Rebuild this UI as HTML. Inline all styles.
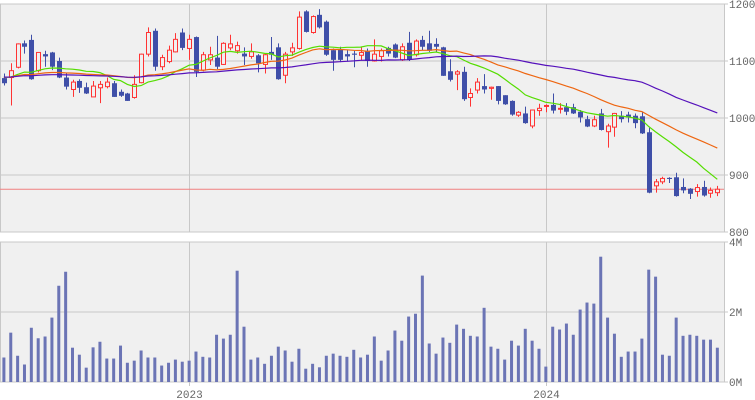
<!DOCTYPE html>
<html><head><meta charset="utf-8">
<style>
body{margin:0;background:#fff;width:755px;height:400px;overflow:hidden;font-family:"Liberation Mono","DejaVu Sans Mono",monospace;}
svg{display:block}
text{font-size:11px;fill:#666;font-family:"Liberation Mono","DejaVu Sans Mono",monospace;}
</style></head>
<body>
<svg id="chart" width="755" height="400" xmlns="http://www.w3.org/2000/svg"></svg>
<script>
const opens=[1070,1071,1089,1131,1137,1083,1112,1115,1100,1071,1050,1065,1054,1037,1053,1055,1061,1046,1043,1036,1062,1112,1153,1090,1099,1116,1150,1122,1142,1084,1102,1106,1094,1123,1118,1113,1108,1110,1094,1116,1124,1075,1116,1122,1187,1150,1181,1169,1119,1120,1112,1113,1110,1118,1100,1108,1123,1129,1102,1132,1111,1137,1131,1130,1124,1082,1077,1081,1036,1049,1056,1052,1056,1040,1030,1005,1008,986,1013,1021,1023,1016,1019,1019,1011,998,986,1008,976,984,1004,1006,1004,1003,975,881,888,895,896,879,876,871,879,868,869];
const highs=[1078,1096,1131,1136,1146,1115,1118,1116,1106,1078,1067,1068,1062,1065,1065,1071,1065,1050,1044,1075,1113,1159,1157,1111,1127,1149,1157,1146,1143,1116,1125,1144,1133,1146,1134,1124,1131,1112,1113,1142,1131,1116,1132,1187,1189,1180,1191,1171,1122,1125,1119,1118,1125,1122,1138,1122,1125,1131,1131,1151,1138,1144,1153,1140,1125,1103,1084,1090,1052,1070,1077,1055,1056,1040,1031,1012,1020,1015,1025,1024,1043,1026,1026,1025,1014,1004,1004,1016,990,1009,1012,1011,1008,1011,983,893,897,896,904,894,877,884,890,878,881];
const lows=[1057,1022,1087,1113,1067,1080,1090,1084,1070,1050,1037,1044,1042,1037,1026,1052,1037,1037,1030,1034,1061,1108,1083,1084,1096,1115,1119,1102,1072,1082,1093,1086,1093,1119,1113,1093,1104,1080,1078,1102,1067,1061,1109,1120,1150,1148,1157,1109,1083,1098,1099,1089,1101,1090,1099,1099,1108,1105,1100,1100,1108,1119,1116,1116,1074,1064,1049,1030,1020,1043,1043,1032,1024,1023,1004,1002,990,982,1004,1010,1008,1008,1005,1007,992,984,984,978,948,967,992,992,982,972,868,869,884,886,862,868,858,862,862,860,863];
const closes=[1061,1083,1130,1125,1068,1115,1108,1090,1071,1055,1063,1053,1043,1056,1059,1063,1037,1039,1030,1059,1112,1150,1090,1106,1119,1138,1123,1138,1081,1111,1111,1090,1131,1130,1127,1108,1116,1096,1111,1111,1068,1112,1123,1177,1151,1178,1159,1111,1102,1102,1108,1111,1115,1100,1112,1118,1113,1106,1125,1102,1135,1125,1118,1125,1074,1067,1081,1033,1043,1063,1050,1054,1030,1024,1006,1010,991,1014,1017,1022,1013,1017,1011,1008,1001,985,997,979,986,1008,998,1001,991,973,869,888,894,893,863,873,867,878,864,873,875];
// estimated average level of closes before the visible window (MA lines start near 1072)
const priorCloses=[1072,1072,1072,1072,1072,1072,1072,1072,1072,1072,1072,1072,1072,1072,1072,1072,1072,1072,1072,1072,1072,1072,1072,1072,1072,1072,1072,1072,1072,1072,1072,1072,1072,1072,1072,1072,1072,1072,1072,1072,1072,1072,1072,1072,1072,1072,1072,1072,1072,1072,1072];
const volumes=[0.70,1.41,0.75,0.50,1.55,1.25,1.30,1.84,2.75,3.15,0.98,0.78,0.41,0.99,1.15,0.67,0.67,1.04,0.55,0.61,0.90,0.70,0.70,0.47,0.55,0.64,0.58,0.61,0.87,0.72,0.70,1.35,1.24,1.35,3.18,1.58,0.64,0.70,0.52,0.75,1.01,0.90,0.58,0.95,0.38,0.52,0.42,0.75,0.81,0.75,0.72,0.92,0.70,0.78,1.30,0.61,0.90,1.47,1.18,1.87,1.95,3.04,1.10,0.81,1.27,1.12,1.64,1.52,1.32,1.30,2.12,1.01,0.95,0.64,1.18,1.04,1.52,1.18,0.95,0.44,1.58,1.50,1.67,1.35,2.07,2.27,2.24,3.58,1.84,1.38,0.72,0.87,0.87,1.24,3.21,3.01,0.78,0.75,1.84,1.32,1.35,1.32,1.21,1.21,0.98];
const priceTicks=[1200,1100,1000,900,800];
const volTicks=[4,2,0];
const volTickLabels=["4M","2M","0M"];
const yearLabels=["2023","2024"];
const yearIndex=[27,79];
const maWindows=[13,26,52];
const refPrice=875;

const NS="http://www.w3.org/2000/svg";
const svg=document.getElementById('chart');
function mk(tag,attrs,parent){const e=document.createElementNS(NS,tag);for(const k in attrs)e.setAttribute(k,attrs[k]);(parent||svg).appendChild(e);return e;}
const X0=3.9,DX=6.86,RIGHT=724;
const xs=i=>X0+DX*i;
const py=p=>4+(1200-p)*0.57;
const vy=v=>382-v*35;

let e=mk('rect',{x:0.5,y:4,width:RIGHT,height:228,fill:'#f0f0f0',stroke:'#c8c8c8'});

e=mk('rect',{x:0.5,y:242,width:RIGHT,height:140,fill:'#f0f0f0',stroke:'#c8c8c8'});


priceTicks.forEach(p=>{
  const l=mk('line',{x1:0,x2:RIGHT+4,y1:py(p),y2:py(p),stroke:'#c8c8c8'});
  
  const t=mk('text',{x:729,y:py(p)+4});t.textContent=p;
  
});
volTicks.forEach((v,k)=>{
  const l=mk('line',{x1:0,x2:RIGHT+4,y1:vy(v),y2:vy(v),stroke:'#c8c8c8'});
  
  const t=mk('text',{x:729,y:vy(v)+4});t.textContent=volTickLabels[k];
  
});
yearIndex.forEach((idx,k)=>{
  const x=Math.round(xs(idx))+0.5;
  let l=mk('line',{x1:x,x2:x,y1:4,y2:232,stroke:'#c8c8c8'});
  
  l=mk('line',{x1:x,x2:x,y1:242,y2:386,stroke:'#c8c8c8'});
  
  const t=mk('text',{x:x,y:398,'text-anchor':'middle'});t.textContent=yearLabels[k];
  
});
e=mk('line',{x1:RIGHT+0.5,x2:RIGHT+0.5,y1:4,y2:232,stroke:'#c8c8c8'});

volumes.forEach((v,i)=>{
  const b=mk('rect',{x:xs(i)-1.5,y:vy(v),width:3,height:v*35,fill:'#6b74b5'});
  
});

e=mk('line',{x1:0,x2:RIGHT,y1:py(refPrice),y2:py(refPrice),stroke:'#f08080'});


closes.forEach((c,i)=>{
  const o=opens[i],up=c>=o,x=Math.round(xs(i))+0.5;
  const col=up?'#ff3333':'#3f4fa8';
  const g=mk('g',{});
  
  mk('line',{x1:x,x2:x,y1:py(highs[i]),y2:py(lows[i]),stroke:col},g);
  const top=py(Math.max(o,c)),h=Math.max(1,py(Math.min(o,c))-top);
  if(up) mk('rect',{x:x-2,y:top,width:4,height:h,fill:'#f0f0f0',stroke:col},g);
  else mk('rect',{x:x-2.5,y:top,width:5,height:h,fill:col},g);
});

const allCloses=priorCloses.concat(closes);
const off=priorCloses.length;
const maColors=['#55dd00','#ee6611','#5511bb'];
const maNames=['ma-13-line','ma-26-line','ma-52-line'];
maWindows.forEach((w,k)=>{
  const pts=closes.map((c,i)=>{
    const j=i+off;
    const s=allCloses.slice(Math.max(0,j-w+1),j+1);
    const m=s.reduce((a,b)=>a+b,0)/s.length;
    return xs(i).toFixed(1)+','+py(m).toFixed(1);
  });
  const p=mk('polyline',{points:pts.join(' '),fill:'none',stroke:maColors[k],'stroke-width':1.2});
  
});
</script>
</body></html>
